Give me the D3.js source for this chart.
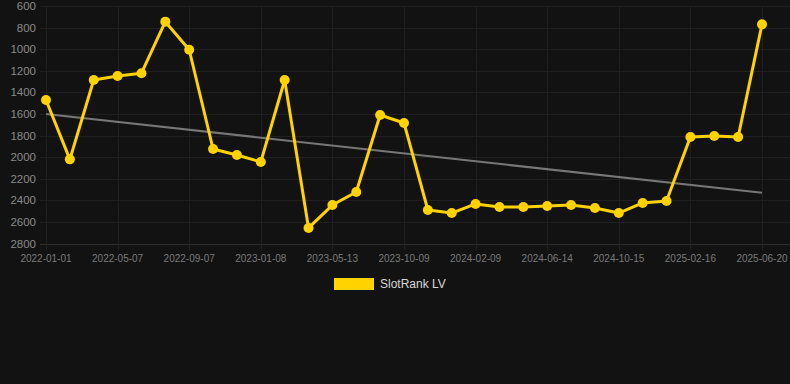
<!DOCTYPE html>
<html>
<head>
<meta charset="utf-8">
<script src="https://cdn.jsdelivr.net/npm/d3@7"></script>
<style>
  html, body { margin: 0; padding: 0; background: #121212; }
  svg { display: block; font-family: "Liberation Sans", Arial, sans-serif; }
</style>
</head>
<body>
<div id="chart"></div>
<script>
/* DATA */
// category dates (only every third one is shown as a tick label)
const dates = [
  "2022-01-01", "2022-02-12", "2022-03-26", "2022-05-07", "2022-06-18", "2022-07-28",
  "2022-09-07", "2022-10-20", "2022-11-30", "2023-01-08", "2023-02-20", "2023-04-01",
  "2023-05-13", "2023-06-27", "2023-08-18", "2023-10-09", "2023-11-20", "2023-12-30",
  "2024-02-09", "2024-03-22", "2024-05-03", "2024-06-14", "2024-07-26", "2024-09-04",
  "2024-10-15", "2024-11-27", "2025-01-06", "2025-02-16", "2025-03-30", "2025-05-10",
  "2025-06-20"
];
const rankValues = [
  1470, 2020, 1285, 1248, 1222, 745, 1005, 1924, 1980, 2044, 1285,
  2655, 2443, 2322, 1609, 1683, 2489, 2517, 2433, 2461, 2461, 2452,
  2443, 2470, 2517, 2424, 2405, 1813, 1804, 1813, 770
];
const trendValues = [1600, 2330]; // start and end of trend line
const yTicks = [600, 800, 1000, 1200, 1400, 1600, 1800, 2000, 2200, 2400, 2600, 2800];
const seriesName = "SlotRank LV";

/* CONSTANTS */
const width = 790, height = 384;
const plot = { left: 40, right: 790, top: 6, bottom: 243.6 };
const yellow = "#ffd200";

const svg = d3.select("#chart").append("svg")
  .attr("width", width)
  .attr("height", height);

const xScale = d3.scalePoint()
  .domain(dates)
  .range([46, 762]);

const yScale = d3.scaleLinear()
  .domain([600, 2800])
  .range([plot.top, plot.bottom]);

const labelDates = dates.filter((d, i) => i % 3 === 0);

// horizontal grid
svg.append("g")
  .selectAll("line")
  .data(yTicks)
  .join("line")
  .attr("x1", plot.left)
  .attr("x2", plot.right)
  .attr("y1", d => Math.round(yScale(d)) + 0.5)
  .attr("y2", d => Math.round(yScale(d)) + 0.5)
  .attr("stroke", d => d === 2800 ? "#2e2e2e" : "#202020")
  .attr("stroke-width", 1);

// vertical grid at labelled dates
svg.append("g")
  .selectAll("line")
  .data(labelDates)
  .join("line")
  .attr("x1", d => Math.round(xScale(d)) + 0.5)
  .attr("x2", d => Math.round(xScale(d)) + 0.5)
  .attr("y1", plot.top)
  .attr("y2", plot.bottom + 7)
  .attr("stroke", "#202020")
  .attr("stroke-width", 1);

// y axis labels
svg.append("g")
  .selectAll("text")
  .data(yTicks)
  .join("text")
  .attr("x", 36)
  .attr("y", d => yScale(d))
  .attr("dy", "0.35em")
  .attr("text-anchor", "end")
  .attr("fill", "#8a8a8a")
  .style("font-size", "11.5px")
  .text(d => d);

// x axis labels
svg.append("g")
  .selectAll("text")
  .data(labelDates)
  .join("text")
  .attr("x", d => xScale(d))
  .attr("y", 258)
  .attr("dy", "0.35em")
  .attr("text-anchor", "middle")
  .attr("fill", "#7a7a7a")
  .style("font-size", "10px")
  .text(d => d);

// trend line
svg.append("line")
  .attr("x1", xScale(dates[0]))
  .attr("x2", xScale(dates[dates.length - 1]))
  .attr("y1", yScale(trendValues[0]))
  .attr("y2", yScale(trendValues[1]))
  .attr("stroke", "#777")
  .attr("stroke-width", 2);

// main line
const lineFunc = d3.line()
  .x((d, i) => xScale(dates[i]))
  .y(d => yScale(d));

svg.append("path")
  .attr("d", lineFunc(rankValues))
  .attr("fill", "none")
  .attr("stroke", yellow)
  .attr("stroke-width", 3)
  .attr("stroke-linejoin", "round");

svg.append("g")
  .selectAll("circle")
  .data(rankValues)
  .join("circle")
  .attr("cx", (d, i) => xScale(dates[i]))
  .attr("cy", d => yScale(d))
  .attr("r", 5)
  .attr("fill", yellow);

// legend
const legend = svg.append("g");
legend.append("rect")
  .attr("x", 334)
  .attr("y", 278)
  .attr("width", 40)
  .attr("height", 12)
  .attr("fill", yellow);
legend.append("text")
  .attr("x", 380)
  .attr("y", 284)
  .attr("dy", "0.35em")
  .attr("fill", "#d8d8d8")
  .style("font-size", "12px")
  .text(seriesName);
</script>
</body>
</html>
